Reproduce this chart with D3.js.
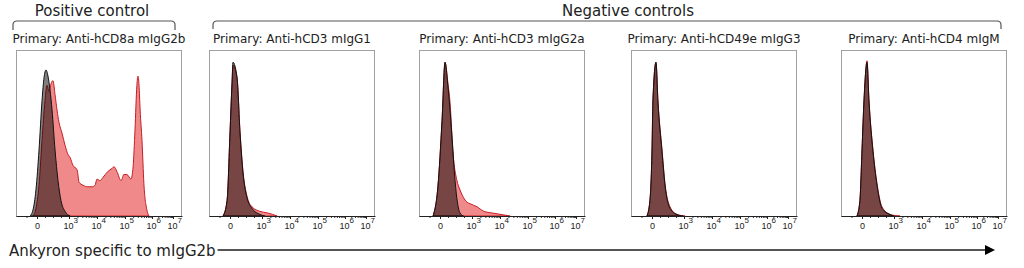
<!DOCTYPE html>
<html>
<head>
<meta charset="utf-8">
<script src="https://cdn.jsdelivr.net/npm/d3@7"></script>
<style>
  body { margin: 0; background: #fff; }
  svg { display: block; font-family: "DejaVu Sans", Verdana, sans-serif; }
</style>
</head>
<body>
<div id="chart"></div>
<script>
// Panel titles (primary antibody used on the cells)
const panelTitles = [
    'Primary: Anti-hCD8a mIgG2b',
    'Primary: Anti-hCD3 mIgG1',
    'Primary: Anti-hCD3 mIgG2a',
    'Primary: Anti-hCD49e mIgG3',
    'Primary: Anti-hCD4 mIgM'
];
const groupLabels = ['Positive control', 'Negative controls'];
const axisLabel = 'Ankyron specific to mIgG2b';

// x axis ticks, in display units (0 = zero, 3..7 = decades)
const tickDecades = [0, 3, 4, 5, 6, 7];

// Histograms: [display position, count normalised to the mode]
const cd8Stained = [[-0.19,0],[-0.05,0.05],[0.19,0.2],[0.47,0.49],[0.75,0.75],[0.94,0.85],[1.13,0.81],[1.31,0.86],
    [1.5,0.88],[1.69,0.79],[1.875,0.69],[2.06,0.61],[2.34,0.54],[2.63,0.46],[2.91,0.4],[3.04,0.38],[3.14,0.33],
    [3.29,0.3],[3.36,0.22],[3.5,0.2],[3.68,0.19],[3.82,0.19],[3.93,0.2],[4.0,0.24],[4.11,0.23],[4.21,0.25],
    [4.39,0.29],[4.54,0.31],[4.61,0.32],[4.71,0.29],[4.86,0.23],[4.96,0.27],[5.07,0.27],[5.22,0.24],[5.3,0.32],
    [5.37,0.56],[5.44,0.85],[5.48,0.91],[5.52,0.85],[5.56,0.69],[5.63,0.49],[5.7,0.21],[5.81,0.04],[5.89,0]];
const cd8Control = [[-0.33,0],[-0.19,0.04],[-0.05,0.17],[0.19,0.43],[0.47,0.75],[0.66,0.9],[0.84,0.95],[1.03,0.91],
    [1.22,0.82],[1.41,0.69],[1.69,0.43],[1.97,0.23],[2.25,0.1],[2.63,0.03],[3.04,0]];

const cd3g1Stained = [[-0.33,0],[-0.14,0.1],[0,0.54],[0.19,0.86],[0.28,0.98],[0.66,0.9],[0.94,0.55],[1.22,0.29],
    [1.59,0.13],[2.06,0.06],[2.81,0.03],[3.2,0.02],[3.54,0]];
const cd3g1Control = [[-0.33,0],[-0.14,0.1],[0,0.54],[0.19,0.87],[0.28,1.0],[0.66,0.9],[0.94,0.54],[1.22,0.28],
    [1.59,0.12],[2.06,0.05],[2.81,0.01],[3.1,0]];

const cd3g2aStained = [[-0.33,0],[-0.1,0.19],[0.19,0.62],[0.47,1.0],[0.75,0.86],[0.94,0.74],[1.22,0.41],[1.59,0.23],
    [1.875,0.17],[2.53,0.09],[2.81,0.08],[3.18,0.06],[3.43,0.03],[3.71,0.02],[4.36,0]];
const cd3g2aControl = [[-0.33,0],[-0.1,0.19],[0.19,0.62],[0.47,1.0],[0.75,0.84],[1.13,0.51],[1.41,0.23],
    [1.875,0.02],[2.2,0]];

const cd49eStained = [[-0.24,0],[-0.1,0.1],[0,0.43],[0.09,0.75],[0.375,1.0],[0.56,0.75],[0.94,0.43],[1.22,0.21],
    [1.69,0.06],[2.34,0.01],[3.04,0]];
const cd49eControl = [[-0.24,0],[-0.1,0.1],[0,0.43],[0.09,0.76],[0.375,1.0],[0.56,0.74],[0.94,0.42],[1.22,0.2],
    [1.69,0.05],[2.34,0.01],[2.9,0]];

const cd4Stained = [[-0.24,0],[-0.1,0.1],[0,0.43],[0.19,0.75],[0.47,1.01],[0.66,0.75],[1.03,0.43],[1.41,0.21],
    [1.875,0.06],[2.63,0.01],[3.21,0]];
const cd4Control = [[-0.24,0],[-0.1,0.1],[0,0.43],[0.19,0.76],[0.47,1.0],[0.66,0.74],[1.03,0.42],[1.41,0.2],
    [1.875,0.05],[2.63,0.01],[3.0,0]];

const stainedSeries = [cd8Stained, cd3g1Stained, cd3g2aStained, cd49eStained, cd4Stained];
const controlSeries = [cd8Control, cd3g1Control, cd3g2aControl, cd49eControl, cd4Control];

const width = 1024, height = 268;
const panelLefts = [16, 209, 419, 631, 841];
const panelW = 166, panelTop = 50, panelBottom = 216;

const svg = d3.select('#chart').append('svg')
    .attr('width', width)
    .attr('height', height);

// Display scale: linear around zero, then one step per decade
const x = d3.scaleLinear()
    .domain([-1, 0, 3, 4, 5, 6, 7, 7.43])
    .range([0, 21, 53, 81, 109, 136, 157, panelW]);
const y = d3.scaleLinear()
    .domain([0, 1.08])
    .range([panelBottom, panelTop]);

const area = d3.area()
    .x(d => x(d[0]))
    .y0(y(0))
    .y1(d => y(d[1]))
    .curve(d3.curveMonotoneX);

const minorTicks = [];
[-0.5, 0.75, 1.5, 2.25].forEach(v => minorTicks.push(v));
[3, 4, 5, 6].forEach(dec => {
    for (let m = 2; m < 10; m++) minorTicks.push(dec + Math.log10(m));
});

panelTitles.forEach((title, i) => {
    const g = svg.append('g')
        .attr('transform', `translate(${panelLefts[i]},0)`);

    // frame
    g.append('rect')
        .attr('x', 0.5)
        .attr('y', panelTop + 0.5)
        .attr('width', panelW - 1)
        .attr('height', panelBottom - panelTop)
        .attr('fill', 'none')
        .attr('stroke', '#a0a0a0');

    g.append('text')
        .attr('x', panelW / 2)
        .attr('y', 43)
        .attr('text-anchor', 'middle')
        .style('font-size', '12px')
        .style('fill', '#222')
        .text(title);

    // stained (red) then unstained control (black) on top
    g.append('path')
        .datum(stainedSeries[i])
        .attr('d', area)
        .attr('fill', '#f08a8a')
        .attr('stroke', '#c41e24')
        .attr('stroke-width', 1);

    g.append('path')
        .datum(controlSeries[i])
        .attr('d', area)
        .attr('fill', '#000')
        .attr('fill-opacity', 0.5)
        .attr('stroke', '#111')
        .attr('stroke-width', 1);

    // minor ticks
    g.append('g')
        .attr('transform', `translate(0,${panelBottom})`)
        .call(d3.axisBottom(x).tickValues(minorTicks).tickSize(2).tickFormat(''))
        .call(a => a.select('.domain').remove())
        .call(a => a.selectAll('line').attr('stroke', '#333'));

    // major ticks + labels
    const ax = g.append('g')
        .attr('transform', `translate(0,${panelBottom})`)
        .call(d3.axisBottom(x).tickValues(tickDecades).tickSize(3).tickSizeOuter(0).tickFormat(''));
    ax.select('.domain').attr('stroke', '#222');
    ax.selectAll('line').attr('stroke', '#222');
    ax.selectAll('.tick').each(function(d) {
        const t = d3.select(this).append('text')
            .attr('y', 13)
            .attr('text-anchor', 'middle')
            .attr('fill', '#222')
            .style('font-size', '9px');
        if (d === 0) {
            t.text('0');
        } else {
            t.append('tspan').text('10');
            t.append('tspan')
                .attr('dy', -6)
                .style('font-size', '8px')
                .text(d);
            t.attr('text-anchor', 'start').attr('x', -6);
        }
    });
});

// group brackets
const brackets = [
    { label: groupLabels[0], x0: 13, x1: 175, textX: 92, yHook: 30 },
    { label: groupLabels[1], x0: 213, x1: 1001, textX: 628, yHook: 29 }
];
brackets.forEach(b => {
    const r = 4, yb = 21;
    svg.append('path')
        .attr('d', `M${b.x0},${b.yHook} L${b.x0},${yb + r} Q${b.x0},${yb} ${b.x0 + r},${yb}
                    L${b.x1 - r},${yb} Q${b.x1},${yb} ${b.x1},${yb + r} L${b.x1},${b.yHook}`)
        .attr('fill', 'none')
        .attr('stroke', '#555')
        .attr('stroke-width', 1.2);
    svg.append('text')
        .attr('x', b.textX)
        .attr('y', 16)
        .attr('text-anchor', 'middle')
        .style('font-size', '15px')
        .style('fill', '#222')
        .text(b.label);
});

// bottom axis label and arrow
svg.append('defs').append('marker')
    .attr('id', 'arrow')
    .attr('viewBox', '0 0 10 10')
    .attr('refX', 1)
    .attr('refY', 5)
    .attr('markerWidth', 7)
    .attr('markerHeight', 5)
    .attr('markerUnits', 'strokeWidth')
    .attr('orient', 'auto')
    .append('path')
    .attr('d', 'M0,0 L10,5 L0,10 Z')
    .attr('fill', '#000');

const label = svg.append('text')
    .attr('x', 9)
    .attr('y', 256)
    .style('font-size', '15px')
    .style('fill', '#222')
    .text(axisLabel);
const labelEnd = 9 + label.node().getComputedTextLength();

svg.append('line')
    .attr('x1', labelEnd + 2)
    .attr('x2', 986)
    .attr('y1', 250)
    .attr('y2', 250)
    .attr('stroke', '#555')
    .attr('stroke-width', 2)
    .attr('marker-end', 'url(#arrow)');
</script>
</body>
</html>
